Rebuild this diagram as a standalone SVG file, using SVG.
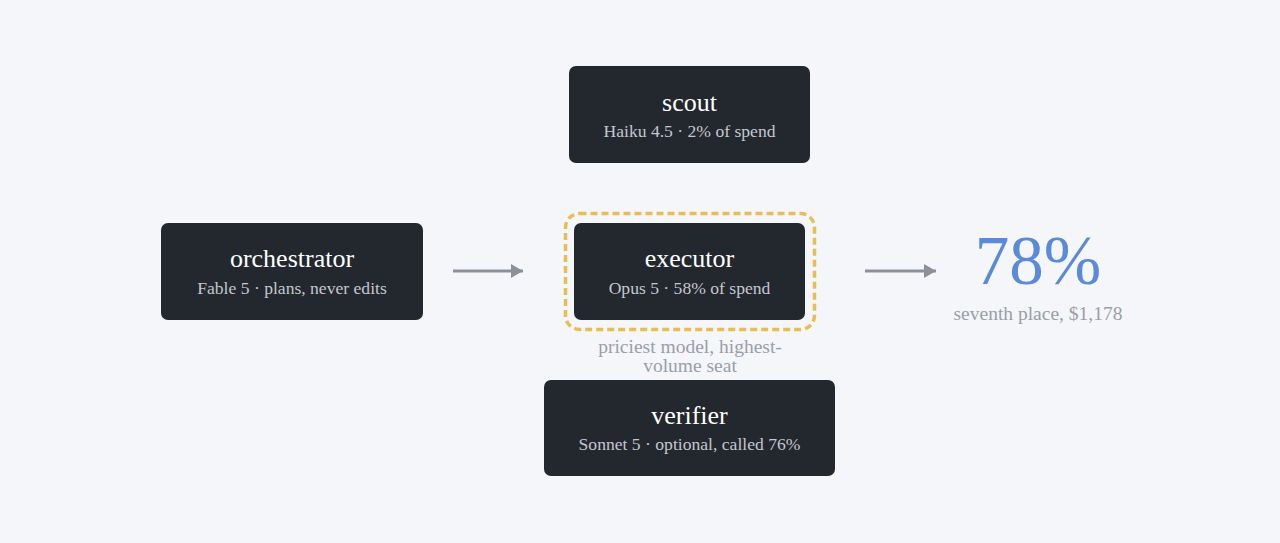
<svg xmlns="http://www.w3.org/2000/svg" width="1280" height="543" viewBox="0 0 1280 543">
<defs>
<style>
.box{fill:#23272e}
.t{font-family:"Liberation Serif","DejaVu Serif",serif;font-size:26px;fill:#ffffff;text-anchor:middle}
.s{font-family:"Liberation Serif","DejaVu Serif",serif;font-size:17.6px;fill:#c3c7cf;text-anchor:middle}
.n{font-family:"Liberation Serif","DejaVu Serif",serif;font-size:19.5px;fill:#9a9ea8;text-anchor:middle}
.big{font-family:"Liberation Serif","DejaVu Serif",serif;font-size:69px;fill:#5b8bd8;text-anchor:middle}
.conn{stroke:#8c9099;stroke-width:3;fill:none}
</style>
<marker id="ah" markerWidth="12" markerHeight="14" viewBox="0 0 12 14" refX="12" refY="7" orient="auto" markerUnits="userSpaceOnUse">
<path d="M0,0 L12,7 L0,14 Z" fill="#8c9099"/>
</marker>
</defs>
<rect width="1280" height="543" fill="#f4f6f9"/>
<g id="connectors">
<line class="conn" x1="453" y1="271" x2="523" y2="271" marker-end="url(#ah)"/>
<line class="conn" x1="865" y1="271" x2="936" y2="271" marker-end="url(#ah)"/>
</g>
<g id="scout">
<rect class="box" x="569" y="66" width="241" height="97" rx="7"/>
<text class="t" x="689.5" y="111">scout</text>
<text class="s" x="689.5" y="137">Haiku 4.5 · 2% of spend</text>
</g>
<g id="orchestrator">
<rect class="box" x="161" y="223" width="262" height="97" rx="7"/>
<text class="t" x="292" y="267">orchestrator</text>
<text class="s" x="292" y="294">Fable 5 · plans, never edits</text>
</g>
<g id="executor">
<rect x="565.5" y="213.5" width="249" height="116" rx="14" fill="none" stroke="#e8bd55" stroke-width="3.5" stroke-dasharray="7 4"/>
<rect class="box" x="574" y="223" width="231" height="97" rx="7"/>
<text class="t" x="689.5" y="267">executor</text>
<text class="s" x="689.5" y="294">Opus 5 · 58% of spend</text>
<text class="n" x="690" y="353">priciest model, highest-</text>
<text class="n" x="690" y="372">volume seat</text>
</g>
<g id="verifier">
<rect class="box" x="544" y="380" width="291" height="96" rx="7"/>
<text class="t" x="689.5" y="424">verifier</text>
<text class="s" x="689.5" y="450">Sonnet 5 · optional, called 76%</text>
</g>
<g id="result">
<text class="big" x="1038" y="284">78%</text>
<text class="n" x="1038" y="320">seventh place, $1,178</text>
</g>
</svg>
